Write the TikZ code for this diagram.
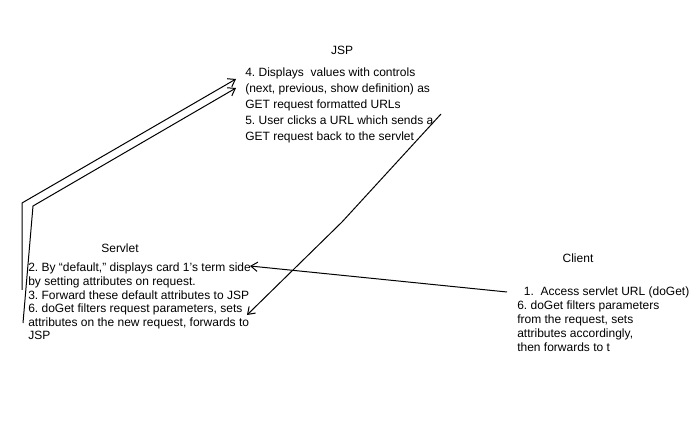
\documentclass[tikz,border=0pt]{standalone}
\usepackage{fontspec}
\setmainfont{Liberation Sans}
\frenchspacing
\usetikzlibrary{arrows.meta}
\tikzset{
  note/.style={inner sep=0pt, anchor=base west, align=left, font=\fontsize{9}{12}\selectfont},
  title/.style={inner sep=0pt, anchor=base, font=\fontsize{9}{12}\selectfont},
  link/.style={line width=0.75pt, -{Straight Barb[length=5pt,width=7pt]}}
}
\begin{document}
\begin{tikzpicture}[x=0.75pt,y=0.75pt,yscale=-1,xscale=1]
\useasboundingbox (0,0) rectangle (696,423);

%Text nodes (base = baseline of the last line)
\node [title] (jsp) at (342,55) {JSP};
\node [note] (jspnote) at (245,141) {4. Displays\ \ values with controls\\(next, previous, show definition) as\\GET request formatted URLs\\5. User clicks a URL which sends a\\GET request back to the servlet};
\node [title] (servlet) at (120,253) {Servlet};
\node [note, font=\fontsize{9}{10.2}\selectfont] (servletnote) at (28,340) {2. By ``default,'' displays card 1's term side\\by setting attributes on request.\\3. Forward these default attributes to JSP\\6. doGet filters request parameters, sets\\attributes on the new request, forwards to\\JSP};
\node [title] (client) at (578,263) {Client};
\node [note, font=\fontsize{9}{10.5}\selectfont] (clientnote) at (517,352) {\ \ 1.\ \ Access servlet URL (doGet)\\6. doGet filters parameters\\from the request, sets\\attributes accordingly,\\then forwards to t};

%Connector ends
\coordinate (outerFoot) at (22,290);
\coordinate (outerBend) at (22,203);
\coordinate (outerTip) at (236,79);
\coordinate (innerFoot) at (23,323);
\coordinate (innerBend) at (33,206);
\coordinate (innerTip) at (236,88);
\coordinate (backStart) at (441,114);
\coordinate (backBend) at (342,222);
\coordinate (backTip) at (247,315);
\coordinate (reqStart) at (507,292);
\coordinate (reqTip) at (250,266);

%Straight Lines
\draw [link] (outerFoot) -- (outerBend) -- (outerTip);
\draw [link] (innerFoot) -- (innerBend) -- (innerTip);
\draw [link] (backStart) -- (backBend) -- (backTip);
\draw [link] (reqStart) -- (reqTip);

\end{tikzpicture}
\end{document}
